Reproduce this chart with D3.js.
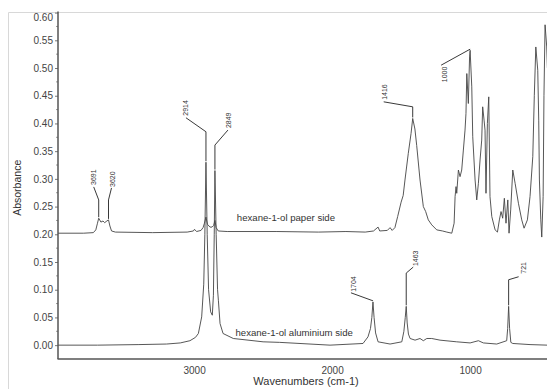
<!DOCTYPE html>
<html>
<head>
<meta charset="utf-8">
<script src="https://cdn.jsdelivr.net/npm/d3@7"></script>
<style>
  body { margin: 0; background: #fff; }
  svg { display: block; font-family: "Liberation Sans", Arial, sans-serif; }
</style>
</head>
<body>
<svg id="chart" width="547" height="389"></svg>
<script>
// paper side spectrum: [wavenumber, absorbance] (offset by +0.20 as plotted)
const paperSide = [
  [3986, 0.202], [3800, 0.202], [3730, 0.203], [3712, 0.208], [3700, 0.220], [3691, 0.229],
  [3675, 0.222], [3660, 0.224], [3648, 0.221], [3632, 0.224], [3620, 0.226], [3610, 0.215],
  [3598, 0.206], [3570, 0.204], [3300, 0.203], [3050, 0.204], [3005, 0.206], [2997, 0.209],
  [2982, 0.205], [2950, 0.207], [2935, 0.212], [2925, 0.220], [2914, 0.231], [2903, 0.218],
  [2885, 0.213], [2870, 0.213], [2858, 0.216], [2849, 0.225], [2840, 0.212], [2825, 0.206],
  [2760, 0.205], [2400, 0.205], [2100, 0.204], [1900, 0.205], [1760, 0.204], [1700, 0.206],
  [1667, 0.213], [1655, 0.206], [1600, 0.207], [1580, 0.212], [1565, 0.207], [1545, 0.212],
  [1525, 0.232], [1500, 0.258], [1485, 0.270], [1472, 0.298], [1448, 0.346], [1428, 0.382],
  [1416, 0.409], [1400, 0.390], [1387, 0.360], [1363, 0.298], [1339, 0.250], [1322, 0.241],
  [1303, 0.226], [1278, 0.217], [1242, 0.208], [1200, 0.206], [1169, 0.204], [1133, 0.202],
  [1116, 0.220], [1109, 0.268], [1102, 0.286], [1097, 0.274], [1085, 0.316], [1073, 0.304],
  [1061, 0.316], [1049, 0.352], [1037, 0.388], [1030, 0.418], [1024, 0.490], [1013, 0.436],
  [1004, 0.520], [1000, 0.532], [988, 0.466], [981, 0.376], [964, 0.298], [952, 0.262],
  [940, 0.292], [928, 0.334], [916, 0.370], [909, 0.430], [899, 0.406], [892, 0.388],
  [885, 0.274], [875, 0.400], [865, 0.448], [856, 0.268], [843, 0.232], [819, 0.208],
  [802, 0.204], [788, 0.226], [776, 0.241], [764, 0.229], [752, 0.265], [740, 0.220],
  [727, 0.262], [718, 0.202], [706, 0.244], [691, 0.316], [674, 0.292], [650, 0.256],
  [626, 0.226], [609, 0.211], [585, 0.226], [566, 0.268], [546, 0.340], [535, 0.450],
  [524, 0.538], [510, 0.496], [503, 0.406], [498, 0.298], [488, 0.226], [481, 0.195],
  [471, 0.268], [465, 0.450], [457, 0.578], [445, 0.538], [440, 0.500]
];

// aluminium side spectrum
const aluminiumSide = [
  [3986, 0.000], [3700, 0.000], [3400, 0.001], [3200, 0.002], [3100, 0.004], [3030, 0.008],
  [2990, 0.014], [2969, 0.021], [2945, 0.051], [2930, 0.110], [2922, 0.200], [2914, 0.330],
  [2905, 0.200], [2895, 0.100], [2880, 0.060], [2868, 0.054], [2860, 0.090], [2854, 0.200],
  [2849, 0.315], [2840, 0.200], [2830, 0.100], [2824, 0.081], [2812, 0.039], [2790, 0.021],
  [2716, 0.012], [2500, 0.006], [2380, 0.005], [2015, 0.000], [1776, 0.003], [1740, 0.015],
  [1722, 0.030], [1712, 0.050], [1704, 0.078], [1696, 0.050], [1685, 0.022], [1667, 0.006],
  [1580, 0.002], [1495, 0.006], [1480, 0.025], [1470, 0.050], [1463, 0.070], [1456, 0.040],
  [1447, 0.020], [1435, 0.012], [1399, 0.009], [1363, 0.012], [1339, 0.008], [1314, 0.012],
  [1278, 0.012], [1218, 0.009], [1097, 0.006], [1000, 0.004], [940, 0.008], [904, 0.004],
  [807, 0.002], [735, 0.008], [728, 0.030], [721, 0.070], [714, 0.030], [705, 0.005],
  [691, 0.003], [566, 0.001], [440, 0.000]
];

const seriesNames = ['hexane-1-ol paper side', 'hexane-1-ol aluminium side'];
const seriesLabelAt = [[2690, 0.224], [2700, 0.0165]];

const yTicks = [0.00, 0.05, 0.10, 0.15, 0.20, 0.25, 0.30, 0.35, 0.40, 0.45, 0.50, 0.55, 0.60];
const xTicks = [3000, 2000, 1000];

// peak annotations: label, wavenumber, elbow absorbance of leader, absorbance at peak top
const peakText = ['3691', '3620', '2914', '2849', '1416', '1000', '1704', '1463', '721'];
const peakWn = [3691, 3620, 2914, 2849, 1416, 1000, 1704, 1463, 721];
const peakElbow = [0.262, 0.262, 0.385, 0.361, 0.430, 0.534, 0.080, 0.130, 0.118];
const peakTop = [0.229, 0.226, 0.330, 0.315, 0.409, 0.532, 0.078, 0.070, 0.070];

// layout of the leaders/labels (pixel offsets from elbow)
const leadStart = [[-5, -13], [3, -12], [-20, -14], [13, -15], [-29, -5], [-29, 16], [-22, -8], [7, -6], [10, -3]];
const textPos = [[-5, -15], [4, -13], [-20, -16], [14, -17], [-28, -7], [-26, 33], [-19, -9], [9, -7], [15, -6]];

const svg = d3.select('#chart');
const margin = { left: 58, top: 12.6, right: 547, bottom: 359 };

const x = d3.scaleLinear().domain([3986, 443]).range([margin.left, margin.right]);
const y = d3.scaleLinear().domain([-0.025, 0.6]).range([margin.bottom, margin.top]);

// faint outer frame
svg.append('path')
    .attr('d', `M8.5,389 V12.5 H547`)
    .attr('fill', 'none')
    .attr('stroke', '#d8d8d8')
    .attr('stroke-width', 1);

const plot = svg.append('g');

svg.append('clipPath').attr('id', 'clip')
  .append('rect')
    .attr('x', margin.left).attr('y', margin.top - 2)
    .attr('width', margin.right - margin.left).attr('height', margin.bottom - margin.top + 2);

const line = d3.line()
    .x(d => x(d[0]))
    .y(d => y(d[1]));

plot.append('g').attr('clip-path', 'url(#clip)')
  .selectAll('path.trace')
  .data([paperSide, aluminiumSide])
  .join('path')
    .attr('class', 'trace')
    .attr('d', line)
    .attr('fill', 'none')
    .attr('stroke', '#444')
    .attr('stroke-width', 0.9)
    .attr('stroke-linejoin', 'round');

// series names
plot.selectAll('text.series')
  .data(seriesNames)
  .join('text')
    .attr('class', 'series')
    .attr('x', (d, i) => x(seriesLabelAt[i][0]))
    .attr('y', (d, i) => y(seriesLabelAt[i][1]))
    .attr('font-size', 9.6)
    .attr('fill', '#333')
    .text(d => d);

// peak labels with leaders
const peaks = peakText.map((t, i) => {
  const px = x(peakWn[i]);
  const ey = y(peakElbow[i]);
  return {
    text: t,
    px, ey,
    ty: y(peakTop[i]),
    lx: px + leadStart[i][0], ly: ey + leadStart[i][1],
    tx: px + textPos[i][0], tyy: ey + textPos[i][1]
  };
});

const pk = plot.selectAll('g.peak')
  .data(peaks)
  .join('g')
    .attr('class', 'peak');

pk.append('path')
    .attr('d', d => `M${d.lx},${d.ly} L${d.px},${d.ey} L${d.px},${Math.max(d.ey, d.ty - 1)}`)
    .attr('fill', 'none')
    .attr('stroke', '#222')
    .attr('stroke-width', 0.9);

pk.append('text')
    .attr('transform', d => `translate(${d.tx},${d.tyy}) rotate(-90)`)
    .attr('dy', '0.35em')
    .attr('font-size', 7)
    .attr('fill', '#333')
    .text(d => d.text);

// y axis
const yAxis = svg.append('g')
    .attr('transform', `translate(${margin.left},0)`)
    .call(d3.axisLeft(y).tickValues(yTicks).tickFormat(d3.format('.2f')).tickSize(3).tickPadding(2));

yAxis.select('.domain').remove();
yAxis.selectAll('line').attr('stroke', '#777');
yAxis.selectAll('text')
    .attr('font-size', 10)
    .attr('fill', '#444')
    .attr('font-family', '"Liberation Sans", Arial, sans-serif')
    .attr('dy', d => d === 0.6 ? '0.75em' : '0.32em');

// minor ticks
svg.append('g')
  .selectAll('line')
  .data(d3.range(0, 12).map(i => yTicks[i] + 0.025))
  .join('line')
    .attr('x1', margin.left - 2).attr('x2', margin.left)
    .attr('y1', d => y(d)).attr('y2', d => y(d))
    .attr('stroke', '#999');

svg.append('line')
    .attr('x1', margin.left).attr('x2', margin.left)
    .attr('y1', margin.top - 1).attr('y2', margin.bottom)
    .attr('stroke', '#555')
    .attr('stroke-width', 1.5);

// x axis
const xAxis = svg.append('g')
    .attr('transform', `translate(0,${margin.bottom})`)
    .call(d3.axisBottom(x).tickValues(xTicks).tickFormat(d3.format('d')).tickSize(0).tickPadding(8));

xAxis.select('.domain').remove();
xAxis.selectAll('text')
    .attr('font-size', 10)
    .attr('fill', '#444')
    .attr('font-family', '"Liberation Sans", Arial, sans-serif');

svg.append('line')
    .attr('x1', margin.left - 0.5).attr('x2', margin.right)
    .attr('y1', margin.bottom).attr('y2', margin.bottom)
    .attr('stroke', '#555')
    .attr('stroke-width', 1.6);

// axis titles
svg.append('text')
    .attr('transform', `translate(21,${(margin.top + margin.bottom) / 2 + 2}) rotate(-90)`)
    .attr('text-anchor', 'middle')
    .attr('font-size', 10.5)
    .attr('fill', '#333')
    .text('Absorbance');

svg.append('text')
    .attr('x', 306)
    .attr('y', 385)
    .attr('text-anchor', 'middle')
    .attr('font-size', 11)
    .attr('fill', '#333')
    .text('Wavenumbers (cm-1)');
</script>
</body>
</html>
